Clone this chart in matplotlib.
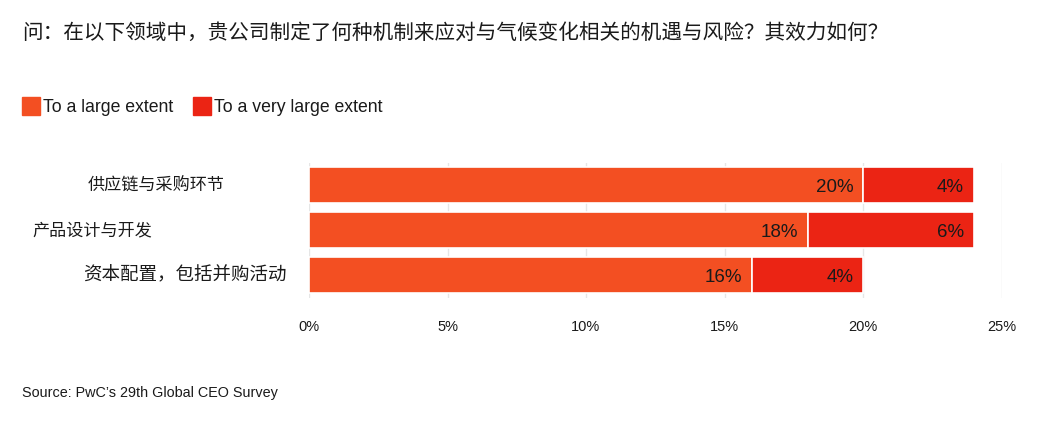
import matplotlib.pyplot as plt
from matplotlib.patches import Rectangle
from matplotlib.transforms import blended_transform_factory

plt.rcParams['font.family'] = ['Noto Sans CJK SC', 'Liberation Sans', 'DejaVu Sans']
latin = ['Liberation Sans', 'DejaVu Sans']

categories = ['供应链与采购环节', '产品设计与开发', '资本配置，包括并购活动']
large = [20, 18, 16]
very_large = [4, 6, 4]
series_names = ['To a large extent', 'To a very large extent']
xticks = [0, 5, 10, 15, 20, 25]
xtick_labels = ['0%', '5%', '10%', '15%', '20%', '25%']

title = '问：在以下领域中，贵公司制定了何种机制来应对与气候变化相关的机遇与风险？其效力如何？'
source = 'Source: PwC\u2019s 29th Global CEO Survey'

c_large = '#F34F22'
c_vlarge = '#EB2414'
text_dark = '#1a1a1a'

W, H = 1056, 424
fig = plt.figure(figsize=(W / 100, H / 100), dpi=100)
fig.patch.set_facecolor('white')

# axes placed in pixel terms: x 309..1001, y 162.5..297.5
ax = fig.add_axes([309 / W, 1 - 297.5 / H, (1001.5 - 309) / W, 135 / H])

ypos = list(range(len(categories)))
ax.barh(ypos, large, height=0.8, color=c_large, edgecolor='white', linewidth=1.2, zorder=2)
ax.barh(ypos, very_large, left=large, height=0.8, color=c_vlarge, edgecolor='white',
        linewidth=1.2, zorder=2)

ax.set_xlim(0, 25)
ax.set_ylim(2.5, -0.5)
ax.set_xticks(xticks)
ax.set_xticklabels(xtick_labels, fontsize=10.5, color=text_dark, family=latin)
ax.set_yticks([])
ax.tick_params(axis='x', length=0, pad=16)
ax.grid(axis='x', color='#e6e6e6', linewidth=1, zorder=0)
for spine in ax.spines.values():
    spine.set_visible(False)

# value labels, right-aligned inside each segment
for i in ypos:
    ax.annotate(f'{large[i]}%', (large[i], i), xytext=(-7, -1.5), textcoords='offset points',
                ha='right', va='center', fontsize=13.5, color=text_dark, zorder=3, family=latin)
    end = large[i] + very_large[i]
    ax.annotate(f'{very_large[i]}%', (end, i), xytext=(-7, -1.5), textcoords='offset points',
                ha='right', va='center', fontsize=13.5, color=text_dark, zorder=3, family=latin)

# category labels (centred at their own x positions, as in the reference)
label_cx = [156 / W, 92 / W, 185 / W]
label_fs = [12.3, 12.3, 13.3]
trans = blended_transform_factory(fig.transFigure, ax.transData)
for i, lab in enumerate(categories):
    ax.text(label_cx[i], i, lab, transform=trans, ha='center', va='center',
            fontsize=label_fs[i], color=text_dark, clip_on=False)

# title
fig.text(22 / W, 1 - 33 / H, title, ha='left', va='center', fontsize=14.85, color=text_dark)

# legend
sq = 18
for x0, name, col in [(22, series_names[0], c_large), (193, series_names[1], c_vlarge)]:
    fig.patches.append(Rectangle((x0 / W, 1 - 115 / H), sq / W, sq / H,
                                 transform=fig.transFigure, color=col))
    fig.text((x0 + sq + 3) / W, 1 - 107 / H, name, ha='left', va='center',
             fontsize=12.7, color=text_dark, family=latin)

# source
fig.text(22 / W, 1 - 393 / H, source, ha='left', va='center', fontsize=10.4,
         color=text_dark, family=latin)

fig.savefig('out.png', dpi=100, facecolor='white')
